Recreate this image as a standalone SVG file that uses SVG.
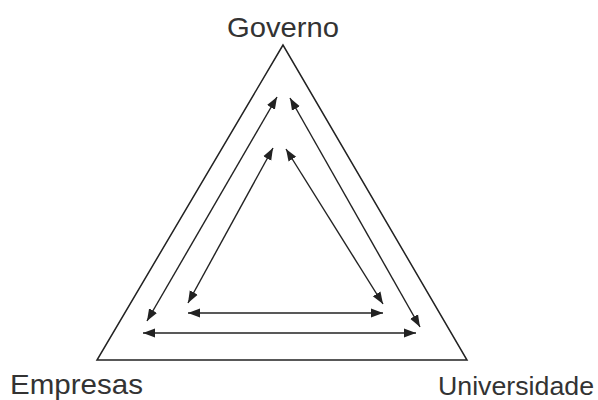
<svg xmlns="http://www.w3.org/2000/svg" width="598" height="400" viewBox="0 0 598 400">
<style>
.lbl{font-family:"Liberation Sans",Arial,sans-serif;fill:#333;}
.tri{fill:none;stroke:#222;stroke-width:1.5;stroke-linejoin:miter;}
.arr{fill:none;stroke:#222;stroke-width:1.4;marker-start:url(#ah);marker-end:url(#ah);}
</style>
<defs>
<marker id="ah" markerUnits="userSpaceOnUse" markerWidth="13" markerHeight="10" refX="12" refY="4.5" orient="auto-start-reverse" viewBox="0 0 13 9">
<path d="M0,0 L12,4.5 L0,9 Z" fill="#222"/>
</marker>
</defs>
<rect width="598" height="400" fill="#fff"/>
<g id="triangle">
<polygon class="tri" points="283,45 97,360 467,360"/>
</g>
<g id="governo"><text class="lbl" x="283" y="37" font-size="28.5" text-anchor="middle" textLength="112" lengthAdjust="spacingAndGlyphs">Governo</text></g>
<g id="empresas"><text class="lbl" x="10" y="394" font-size="27.5" textLength="133" lengthAdjust="spacingAndGlyphs">Empresas</text></g>
<g id="universidade"><text class="lbl" x="438" y="395" font-size="26" textLength="156" lengthAdjust="spacingAndGlyphs">Universidade</text></g>
<g id="connectors">
<line class="arr" x1="277" y1="97" x2="147" y2="321"/>
<line class="arr" x1="290" y1="98" x2="420" y2="327"/>
<line class="arr" x1="273" y1="148" x2="188" y2="303"/>
<line class="arr" x1="286" y1="149" x2="383" y2="304"/>
<line class="arr" x1="188" y1="313" x2="383" y2="313"/>
<line class="arr" x1="143" y1="333" x2="416" y2="333"/>
</g>
</svg>
